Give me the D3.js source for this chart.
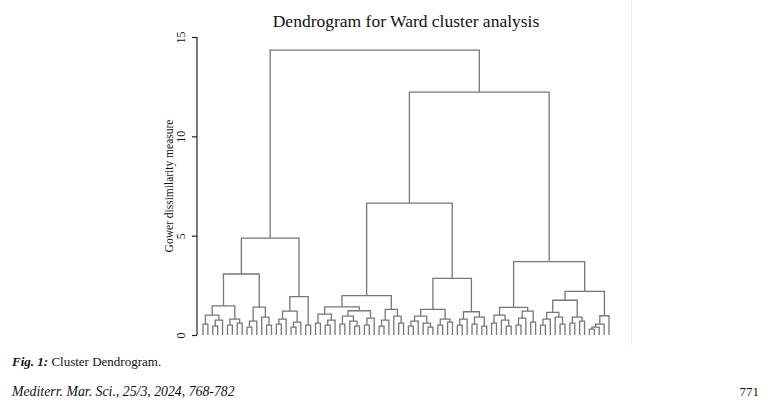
<!DOCTYPE html>
<html>
<head>
<meta charset="utf-8">
<script src="https://cdn.jsdelivr.net/npm/d3@7"></script>
<style>
  body { margin: 0; background: #fff; }
  svg text { font-family: "Liberation Serif", "Times New Roman", serif; fill: #111; }
</style>
</head>
<body>
<svg id="chart" width="780" height="418"></svg>
<script>
// Merge heights: node = [height, left, right], leaf = 0
const L = 0;
const clusterA1a = [1.47, [1.0, [0.55, L, L], [0.75, [0.45, L, L], L]], [0.8, [0.5, L, L], [0.6, L, L]]];
const clusterA1b = [1.4, [0.7, [0.4, L, L], L], [0.9, L, [0.5, L, L]]];
const clusterA2 = [1.93, [1.2, [0.8, [0.55, L, L], L], [0.65, [0.4, L, L], L]], [0.5, L, L]];
const clusterB1aLeft = [1.42, [1.05, [0.6, L, L], [0.75, [0.5, L, L], L]],
  [1.22, [0.95, [0.55, L, L], [0.7, L, [0.45, L, L]]], [0.85, [0.5, L, L], L]]];
const clusterB1aRight = [1.29, [0.75, [0.45, L, L], L], [0.95, L, [0.6, L, L]]];
const clusterB1bLeft = [1.29, [0.95, [0.7, [0.45, L, L], L], [0.6, L, [0.4, L, L]]], [0.8, [0.5, L, L], [0.65, L, L]]];
const clusterB1bRight = [1.17, [0.8, [0.5, L, L], L], [0.9, [0.55, L, L], [0.45, L, L]]];
const clusterB2a = [1.39, [1.0, [0.6, L, L], [0.75, L, [0.45, L, L]]], [1.2, [0.85, [0.5, L, L], L], [0.65, L, L]]];
const clusterB2bLeft = [1.75, [1.14, [0.8, [0.5, L, L], L], [0.9, L, [0.55, L, L]]], [0.9, [0.6, L, L], [0.7, L, L]]];
const clusterB2bRight = [0.97, [0.55, [0.4, [0.3, L, L], L], L], L];

// Upper merges
const clusterA = [4.88, [3.07, clusterA1a, clusterA1b], clusterA2];
const clusterB1 = [6.64, [1.98, clusterB1aLeft, clusterB1aRight], [2.85, clusterB1bLeft, clusterB1bRight]];
const clusterB2 = [3.69, clusterB2a, [2.2, clusterB2bLeft, clusterB2bRight]];
const tree = [14.34, clusterA, [12.23, clusterB1, clusterB2]];

const yTicks = [0, 5, 10, 15];

const svg = d3.select("#chart");

const y = d3.scaleLinear().domain([0, 15]).range([335, 37]);

const root = d3.hierarchy(tree, d => Array.isArray(d) ? d.slice(1) : null);
const leaves = root.leaves();
const x = d3.scaleLinear().domain([0, leaves.length - 1]).range([203, 609]);

// leaf positions, then parents at midpoint of their children
leaves.forEach((d, i) => { d.px = x(i); });
root.eachAfter(d => {
    if (d.children) {
        d.px = (d.children[0].px + d.children[1].px) / 2;
        d.py = y(d.data[0]);
    } else {
        d.py = y(0);
    }
});

// faint page edge
svg.append("line")
    .attr("x1", 631.5).attr("x2", 631.5)
    .attr("y1", 0).attr("y2", 345)
    .attr("stroke", "#f0f0f0");

const g = svg.append("g")
    .attr("fill", "none")
    .attr("stroke", "#777")
    .attr("stroke-width", 1.3);

root.each(d => {
    if (!d.children) return;
    const [a, b] = d.children;
    g.append("path")
        .attr("d", `M${a.px},${a.py}V${d.py}H${b.px}V${b.py}`);
});

// y axis
const axis = svg.append("g").attr("transform", "translate(197,0)")
    .call(d3.axisLeft(y).tickValues(yTicks).tickSize(5).tickFormat(d3.format("d")));
axis.select(".domain").attr("stroke", "#222").attr("stroke-width", 1.2).attr("d", "M0,37V335");
axis.selectAll(".tick line").attr("stroke", "#222").attr("stroke-width", 1.2);
axis.selectAll(".tick text")
    .attr("font-size", 12)
    .attr("x", 0).attr("y", 0)
    .attr("dy", null)
    .attr("text-anchor", "middle")
    .attr("transform", "translate(-12,0) rotate(-90)")
    .style("font-family", "Liberation Serif, serif");

svg.append("text")
    .attr("transform", "translate(173,186) rotate(-90)")
    .attr("text-anchor", "middle")
    .attr("font-size", 11.5)
    .text("Gower dissimilarity measure");

svg.append("text")
    .attr("x", 406).attr("y", 27)
    .attr("text-anchor", "middle")
    .attr("font-size", 17.5)
    .text("Dendrogram for Ward cluster analysis");

// caption and footer
const cap = svg.append("text").attr("x", 12).attr("y", 366).attr("font-size", 13);
cap.append("tspan").attr("font-weight", "bold").attr("font-style", "italic").text("Fig. 1:");
cap.append("tspan").text(" Cluster Dendrogram.");

svg.append("text")
    .attr("x", 12).attr("y", 396)
    .attr("font-size", 13.8)
    .attr("font-style", "italic")
    .text("Mediterr. Mar. Sci., 25/3, 2024, 768-782");

svg.append("text")
    .attr("x", 759).attr("y", 396)
    .attr("text-anchor", "end")
    .attr("font-size", 13)
    .text("771");
</script>
</body>
</html>
